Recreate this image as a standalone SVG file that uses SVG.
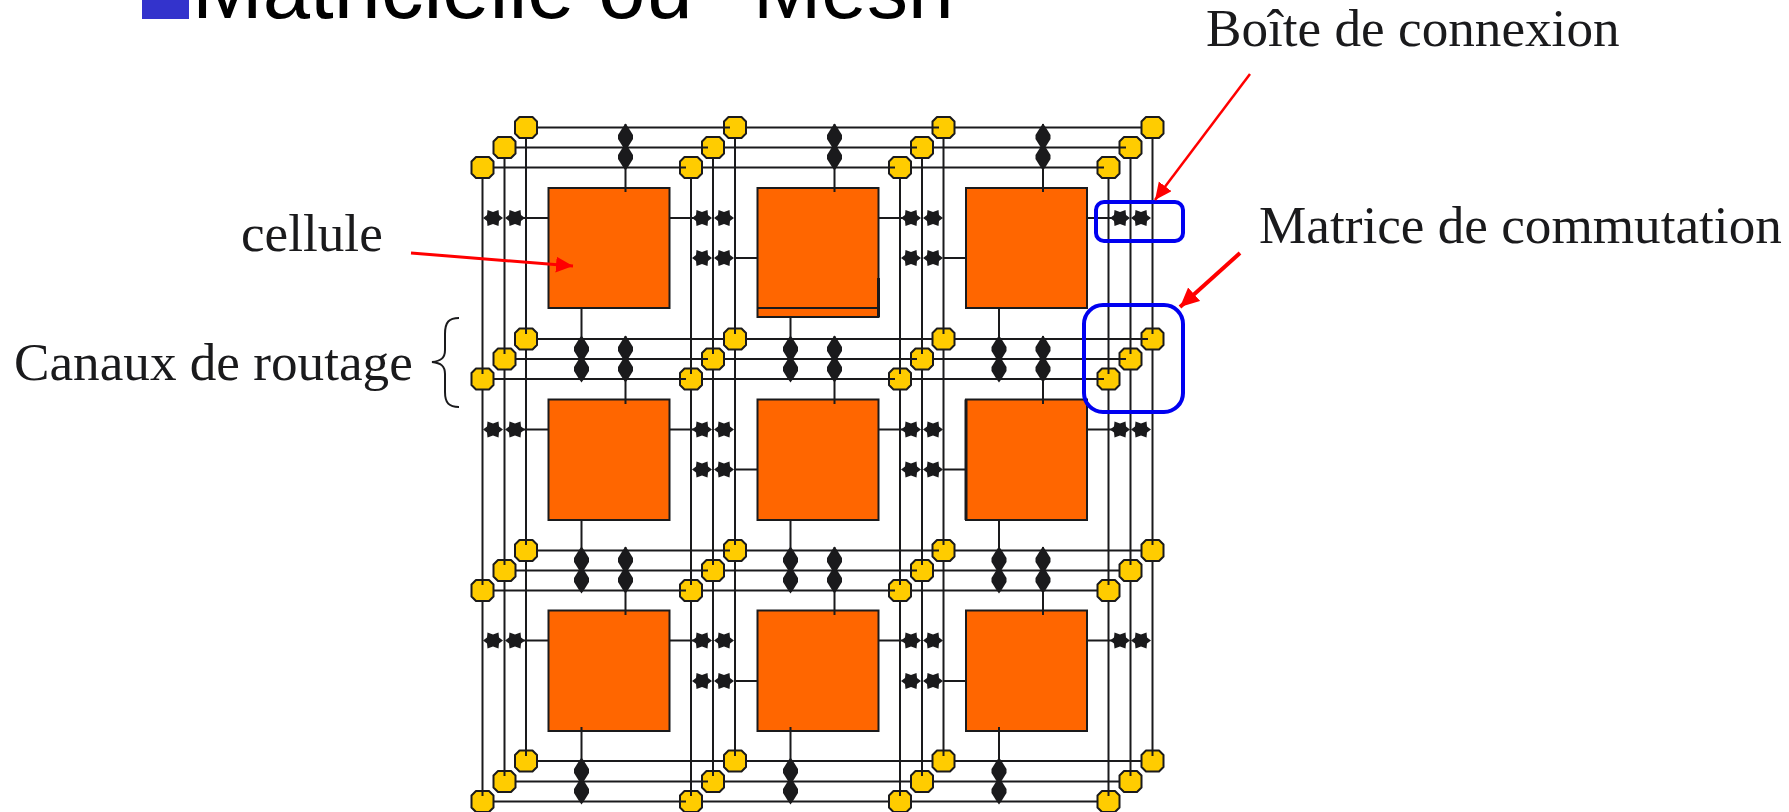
<svg xmlns="http://www.w3.org/2000/svg" width="1789" height="812" viewBox="0 0 1789 812">
<style>
.w{stroke:#1a1a1c;stroke-width:2;fill:none}
.c{fill:#ff6600;stroke:#1a1a1c;stroke-width:2}
.t{font-family:"Liberation Serif",serif;font-size:53.200px;fill:#1a1a1c}
.b{fill:none;stroke:#0000f0;stroke-width:4}
.r{stroke:#ff0000;fill:none}
</style>
<defs>
<polygon id="o" points="-6.500,-10.500 6.500,-10.500 11,-6 11,6 6.500,10.500 -6.500,10.500 -11,6 -11,-6" fill="#ffcc00" stroke="#1a1a1c" stroke-width="2" stroke-linejoin="round"/>
<polygon id="d" points="0,-13.500 2.500,-10 7.500,-2 7.500,2 2.500,10 0,13.500 -2.500,10 -7.500,2 -7.500,-2 -2.500,-10" fill="#1a1a1c"/>
<polygon id="s" points="-10,0 -6,-3 -5.500,-8 0,-6 5.500,-8 6,-3 10,0 6,3 5.500,8 0,6 -5.500,8 -6,3" fill="#1a1a1c"/>
<marker id="a" markerUnits="userSpaceOnUse" markerWidth="20" markerHeight="18" refX="17" refY="8" orient="auto"><polygon points="0,0 17,8 0,16" fill="#ff0000"/></marker>
<marker id="a2" markerUnits="userSpaceOnUse" markerWidth="22" markerHeight="20" refX="19" refY="9" orient="auto"><polygon points="0,0 19,9 0,18" fill="#ff0000"/></marker>
</defs>
<g id="title">
<rect x="142" y="0" width="47" height="19" fill="#3333cc"/>
<text x="192" y="18" font-family="Liberation Sans, sans-serif" font-size="85" fill="#000">Matricielle ou "<tspan x="753" font-size="82">Mesh"</tspan></text>
</g>
<g id="connectors">
<path class="w" d="M526 127V761M504.500 147.500V781.500M482.500 167.500V801.500M735 127V761M713 147.500V781.500M691 167.500V801.500M943.500 127V761M922 147.500V781.500M900 167.500V801.500M1152.500 127V761M1130.500 147.500V781.500M1108.500 167.500V801.500"/>
<path class="w" d="M526 127.500H1152M504 147.500H1130M482 167.500H1108M526 339H1152M504 359H1130M482 379H1108M526 550.500H1152M504 570.500H1130M482 590.500H1108M526 761H1152M504 781.500H1130M482 801.500H1108"/>
<path class="w" d="M625.500 124V188M834.500 124V188M1043 124V188M581.500 308V379M625.500 336V400M790.500 317V379M834.500 336V400M999 308V379M1043 336V400M581.500 520V590M625.500 547V611M790.500 520V590M834.500 547V611M999 520V590M1043 547V611M581.500 731V801M790.500 731V801M999 731V801"/>
<path class="w" d="M515 218H549M669 218H702M735 258H758M878 218H911M943 258H966M1087 218H1120M515 429.500H549M669 429.500H702M735 469.500H758M878 429.500H911M943 469.500H966M1087 429.500H1120M515 640.500H549M669 640.500H702M735 681H758M878 640.500H911M943 681H966M1087 640.500H1120"/>
</g>
<g id="node-cells">
<g id="cell-1"><rect class="c" x="548.500" y="188" width="121" height="120"/></g>
<g id="cell-2"><rect class="c" x="757.500" y="188" width="121" height="129"/><path class="w" d="M757.500 308H878.500"/><path d="M878.500 278V317" stroke="#1a1a1c" stroke-width="3" fill="none"/></g>
<g id="cell-3"><rect class="c" x="966" y="188" width="121" height="120"/></g>
<g id="cell-4"><rect class="c" x="548.500" y="399.500" width="121" height="120.500"/></g>
<g id="cell-5"><rect class="c" x="757.500" y="399.500" width="121" height="120.500"/></g>
<g id="cell-6"><rect class="c" x="966" y="399.500" width="121" height="120.500"/><path d="M966 399.500V520" stroke="#1a1a1c" stroke-width="3" fill="none"/></g>
<g id="cell-7"><rect class="c" x="548.500" y="610.500" width="121" height="120.500"/></g>
<g id="cell-8"><rect class="c" x="757.500" y="610.500" width="121" height="120.500"/></g>
<g id="cell-9"><rect class="c" x="966" y="610.500" width="121" height="120.500"/></g>
<path class="w" d="M625.500 188V192M834.500 188V192M1043 188V192M625.500 400V404M834.500 400V404M1043 400V404M625.500 611V615M834.500 611V615M1043 611V615M581.500 727V731M790.500 727V731M999 727V731"/>
</g>
<g id="node-switches">
<use href="#d" x="625.500" y="137"/><use href="#d" x="625.500" y="157"/><use href="#d" x="834.500" y="137"/><use href="#d" x="834.500" y="157"/><use href="#d" x="1043" y="137"/><use href="#d" x="1043" y="157"/>
<use href="#d" x="581.500" y="349"/><use href="#d" x="581.500" y="369"/><use href="#d" x="625.500" y="349"/><use href="#d" x="625.500" y="369"/><use href="#d" x="790.500" y="349"/><use href="#d" x="790.500" y="369"/><use href="#d" x="834.500" y="349"/><use href="#d" x="834.500" y="369"/><use href="#d" x="999" y="349"/><use href="#d" x="999" y="369"/><use href="#d" x="1043" y="349"/><use href="#d" x="1043" y="369"/>
<use href="#d" x="581.500" y="560"/><use href="#d" x="581.500" y="580"/><use href="#d" x="625.500" y="560"/><use href="#d" x="625.500" y="580"/><use href="#d" x="790.500" y="560"/><use href="#d" x="790.500" y="580"/><use href="#d" x="834.500" y="560"/><use href="#d" x="834.500" y="580"/><use href="#d" x="999" y="560"/><use href="#d" x="999" y="580"/><use href="#d" x="1043" y="560"/><use href="#d" x="1043" y="580"/>
<use href="#d" x="581.500" y="771"/><use href="#d" x="581.500" y="791"/><use href="#d" x="790.500" y="771"/><use href="#d" x="790.500" y="791"/><use href="#d" x="999" y="771"/><use href="#d" x="999" y="791"/>
<use href="#s" x="493" y="218"/><use href="#s" x="515" y="218"/><use href="#s" x="702" y="218"/><use href="#s" x="724" y="218"/><use href="#s" x="702" y="258"/><use href="#s" x="724" y="258"/><use href="#s" x="911" y="218"/><use href="#s" x="933" y="218"/><use href="#s" x="911" y="258"/><use href="#s" x="933" y="258"/><use href="#s" x="1120" y="218"/><use href="#s" x="1141" y="218"/>
<use href="#s" x="493" y="429.500"/><use href="#s" x="515" y="429.500"/><use href="#s" x="702" y="429.500"/><use href="#s" x="724" y="429.500"/><use href="#s" x="702" y="469.500"/><use href="#s" x="724" y="469.500"/><use href="#s" x="911" y="429.500"/><use href="#s" x="933" y="429.500"/><use href="#s" x="911" y="469.500"/><use href="#s" x="933" y="469.500"/><use href="#s" x="1120" y="429.500"/><use href="#s" x="1141" y="429.500"/>
<use href="#s" x="493" y="640.500"/><use href="#s" x="515" y="640.500"/><use href="#s" x="702" y="640.500"/><use href="#s" x="724" y="640.500"/><use href="#s" x="702" y="681"/><use href="#s" x="724" y="681"/><use href="#s" x="911" y="640.500"/><use href="#s" x="933" y="640.500"/><use href="#s" x="911" y="681"/><use href="#s" x="933" y="681"/><use href="#s" x="1120" y="640.500"/><use href="#s" x="1141" y="640.500"/>
</g>
<g id="node-junctions">
<use href="#o" x="526" y="127.500"/><use href="#o" x="504.500" y="147.500"/><use href="#o" x="482.500" y="167.500"/><use href="#o" x="735" y="127.500"/><use href="#o" x="713" y="147.500"/><use href="#o" x="691" y="167.500"/><use href="#o" x="943.500" y="127.500"/><use href="#o" x="922" y="147.500"/><use href="#o" x="900" y="167.500"/><use href="#o" x="1152.500" y="127.500"/><use href="#o" x="1130.500" y="147.500"/><use href="#o" x="1108.500" y="167.500"/>
<use href="#o" x="526" y="339"/><use href="#o" x="504.500" y="359"/><use href="#o" x="482.500" y="379"/><use href="#o" x="735" y="339"/><use href="#o" x="713" y="359"/><use href="#o" x="691" y="379"/><use href="#o" x="943.500" y="339"/><use href="#o" x="922" y="359"/><use href="#o" x="900" y="379"/><use href="#o" x="1152.500" y="339"/><use href="#o" x="1130.500" y="359"/><use href="#o" x="1108.500" y="379"/>
<use href="#o" x="526" y="550.500"/><use href="#o" x="504.500" y="570.500"/><use href="#o" x="482.500" y="590.500"/><use href="#o" x="735" y="550.500"/><use href="#o" x="713" y="570.500"/><use href="#o" x="691" y="590.500"/><use href="#o" x="943.500" y="550.500"/><use href="#o" x="922" y="570.500"/><use href="#o" x="900" y="590.500"/><use href="#o" x="1152.500" y="550.500"/><use href="#o" x="1130.500" y="570.500"/><use href="#o" x="1108.500" y="590.500"/>
<use href="#o" x="526" y="761"/><use href="#o" x="504.500" y="781.500"/><use href="#o" x="482.500" y="801.500"/><use href="#o" x="735" y="761"/><use href="#o" x="713" y="781.500"/><use href="#o" x="691" y="801.500"/><use href="#o" x="943.500" y="761"/><use href="#o" x="922" y="781.500"/><use href="#o" x="900" y="801.500"/><use href="#o" x="1152.500" y="761"/><use href="#o" x="1130.500" y="781.500"/><use href="#o" x="1108.500" y="801.500"/>
<path class="w" d="M526 328V334M504.500 348V354M482.500 368V374M735 328V334M713 348V354M691 368V374M943.500 328V334M922 348V354M900 368V374M1152.500 328V334M1130.500 348V354M1108.500 368V374M526 539V545M504.500 559V565M482.500 579V585M735 539V545M713 559V565M691 579V585M943.500 539V545M922 559V565M900 579V585M1152.500 539V545M1130.500 559V565M1108.500 579V585M526 750V756M504.500 770V776M482.500 790V796M735 750V756M713 770V776M691 790V796M943.500 750V756M922 770V776M900 790V796M1152.500 750V756M1130.500 770V776M1108.500 790V796M680 167.500H686M702 147.500H708M724 127.500H730M889 167.500H895M911 147.500H917M933 127.500H939M1097.500 167.500H1104M1119.500 147.500H1126M680 379H686M702 359H708M889 379H895M911 359H917M1097.500 379H1104M1119.500 359H1126M1141.500 339H1148M680 590.500H686M702 570.500H708M724 550.500H730M889 590.500H895M911 570.500H917M933 550.500H939M680 801.500H686M702 781.500H708"/>
</g>
<g id="callouts">
<rect class="b" x="1096" y="202" width="87" height="39" rx="8"/>
<rect class="b" x="1084" y="305" width="99" height="107" rx="19"/>
<path class="r" stroke-width="2.500" d="M1250 74L1155 200" marker-end="url(#a)"/>
<path class="r" stroke-width="4" d="M1240 253L1180 307" marker-end="url(#a2)"/>
<path class="r" stroke-width="3" d="M411 253L573 266" marker-end="url(#a)"/>
<path d="M459 318C449 318 445 322 445 334V350C445 358 441 361 432 362C441 363 445 366 445 374V392C445 403 449 407 459 407" fill="none" stroke="#1a1a1c" stroke-width="2"/>
</g>
<g id="labels">
<text class="t" x="1206" y="46">Boîte de connexion</text>
<text class="t" x="1259" y="243">Matrice de commutation</text>
<text class="t" x="241" y="251">cellule</text>
<text class="t" x="14" y="380">Canaux de routage</text>
</g>
</svg>
